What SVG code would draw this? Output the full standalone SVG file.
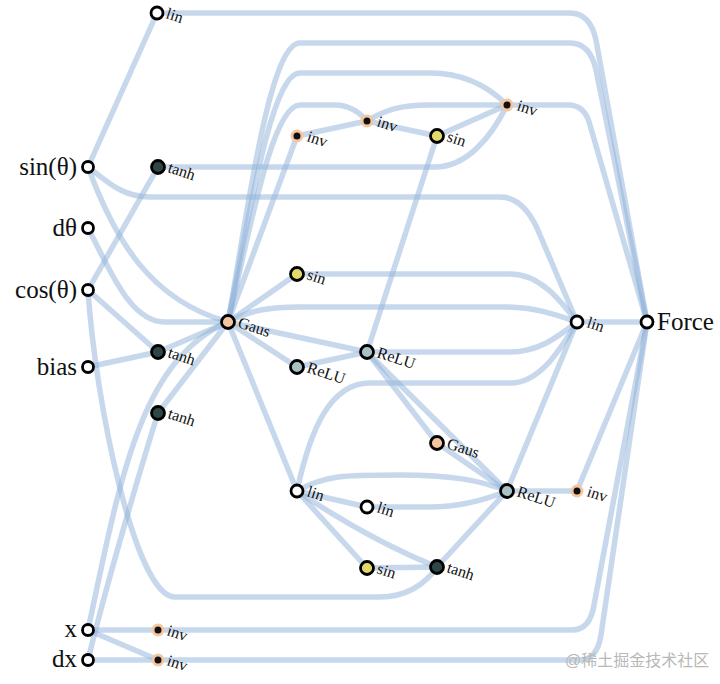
<svg xmlns="http://www.w3.org/2000/svg" width="720" height="684" viewBox="0 0 720 684">
<defs>
<style>
.e{fill:none;stroke:#8fb1d9;stroke-opacity:0.5;stroke-width:5.5;stroke-linecap:round}
.n{stroke:#000;stroke-width:2.8}
.io{fill:#fff}
.lin{fill:#fff}
.gaus{fill:#f4c3a0}
.sin{fill:#e3d96b}
.tanh{fill:#2e4646}
.relu{fill:#a9c1c2}
.inv{fill:#111;stroke:#f5c6a0;stroke-width:3}
.lb{font-family:"Liberation Serif","Times New Roman",serif;font-size:16px;fill:#111}
.big{font-family:"Liberation Serif","Times New Roman",serif;font-size:25px;fill:#111}
.wm{font-family:"Liberation Sans","Noto Sans CJK SC",sans-serif;font-size:16px;fill:#b8b8b8}
</style>
</defs>
<rect width="720" height="684" fill="#fff"/>
<g id="edges">
<path class="e" d="M88,167 L157,13"/>
<path class="e" d="M157,13 H570 Q590,13 596,40 L647,322"/>
<path class="e" d="M88,167 C108,182 122,197 150,197 H500 Q525,197 540,235 L577,322"/>
<path class="e" d="M88,167 C115,240 150,300 228,322"/>
<path class="e" d="M88,228 C110,270 130,322 165,322 H228"/>
<path class="e" d="M88,290 L158,167"/>
<path class="e" d="M88,290 L158,352"/>
<path class="e" d="M88,290 C95,400 135,597 175,597 H380 C405,597 425,585 437,567"/>
<path class="e" d="M88,367 L158,352"/>
<path class="e" d="M88,630 C120,480 140,360 228,322"/>
<path class="e" d="M88,660 C105,590 140,470 158,413"/>
<path class="e" d="M88,630 L158,630"/>
<path class="e" d="M88,630 L158,660"/>
<path class="e" d="M88,660 L158,660"/>
<path class="e" d="M158,630 H572 Q590,630 594,605 L647,322"/>
<path class="e" d="M158,660 H580 Q597,660 601,635 L647,322"/>
<path class="e" d="M158,167 H435 C465,167 490,140 507,105"/>
<path class="e" d="M158,352 L228,322"/>
<path class="e" d="M158,413 L228,322"/>
<path class="e" d="M228,322 L297,136"/>
<path class="e" d="M228,322 C245,230 268,43 300,43 H570 Q590,43 596,70 L647,322"/>
<path class="e" d="M228,322 C247,230 270,73 300,73 H430 C465,73 490,88 507,105"/>
<path class="e" d="M228,322 C250,230 272,105 300,105 H335 C350,105 360,113 367,121"/>
<path class="e" d="M297,136 L367,121"/>
<path class="e" d="M367,121 C385,110 400,105 430,105 H507"/>
<path class="e" d="M367,121 L437,136"/>
<path class="e" d="M437,136 L507,105"/>
<path class="e" d="M507,105 H568 Q585,105 590,125 L647,322"/>
<path class="e" d="M437,136 L367,352"/>
<path class="e" d="M228,322 L297,274"/>
<path class="e" d="M228,322 L297,367"/>
<path class="e" d="M228,322 L367,352"/>
<path class="e" d="M228,322 L297,491"/>
<path class="e" d="M228,322 C250,310 270,307 300,307 H505 C535,307 557,315 577,322"/>
<path class="e" d="M297,274 H510 C540,274 560,300 577,322"/>
<path class="e" d="M367,352 H510 C540,352 560,335 577,322"/>
<path class="e" d="M297,491 C310,430 330,383 370,383 H510 C540,383 560,350 577,322"/>
<path class="e" d="M297,367 L367,352"/>
<path class="e" d="M367,352 L437,443"/>
<path class="e" d="M367,352 L507,491"/>
<path class="e" d="M437,443 L507,491"/>
<path class="e" d="M297,491 L367,507"/>
<path class="e" d="M367,507 H430 C460,507 485,500 507,491"/>
<path class="e" d="M297,491 C325,475 345,475 400,475 C450,475 480,480 507,491"/>
<path class="e" d="M297,491 L367,568"/>
<path class="e" d="M297,491 C340,520 390,548 437,567"/>
<path class="e" d="M367,568 L437,567"/>
<path class="e" d="M437,567 L507,491"/>
<path class="e" d="M507,491 L577,491"/>
<path class="e" d="M507,491 L577,322"/>
<path class="e" d="M577,491 L647,322"/>
<path class="e" d="M577,322 L647,322"/>
</g>
<g id="in-sin"><circle class="n io" cx="88" cy="167" r="5.5"/><text class="big" x="77" y="175" text-anchor="end">sin(θ)</text></g>
<g id="in-dtheta"><circle class="n io" cx="88" cy="228" r="5.5"/><text class="big" x="77" y="236" text-anchor="end">dθ</text></g>
<g id="in-cos"><circle class="n io" cx="88" cy="290" r="5.5"/><text class="big" x="77" y="298" text-anchor="end">cos(θ)</text></g>
<g id="in-bias"><circle class="n io" cx="88" cy="367" r="5.5"/><text class="big" x="77" y="375" text-anchor="end">bias</text></g>
<g id="in-x"><circle class="n io" cx="88" cy="630" r="5.5"/><text class="big" x="77" y="637" text-anchor="end">x</text></g>
<g id="in-dx"><circle class="n io" cx="88" cy="660" r="5.5"/><text class="big" x="77" y="667" text-anchor="end">dx</text></g>
<g id="n-lin1"><circle class="n lin" cx="157" cy="13" r="6"/><text class="lb" x="165" y="18" transform="rotate(18 165 18)">lin</text></g>
<g id="n-tanh1"><circle class="n tanh" cx="158" cy="167" r="6.5"/><text class="lb" x="167" y="172" transform="rotate(18 167 172)">tanh</text></g>
<g id="n-tanh2"><circle class="n tanh" cx="158" cy="352" r="6.5"/><text class="lb" x="167" y="357" transform="rotate(18 167 357)">tanh</text></g>
<g id="n-tanh3"><circle class="n tanh" cx="158" cy="413" r="6.5"/><text class="lb" x="167" y="418" transform="rotate(18 167 418)">tanh</text></g>
<g id="n-inv1"><circle class="inv" cx="158" cy="630" r="5"/><text class="lb" x="166" y="635" transform="rotate(18 166 635)">inv</text></g>
<g id="n-inv2"><circle class="inv" cx="158" cy="660" r="5"/><text class="lb" x="166" y="665" transform="rotate(18 166 665)">inv</text></g>
<g id="n-gaus1"><circle class="n gaus" cx="228" cy="322" r="6.5"/><text class="lb" x="237" y="327" transform="rotate(18 237 327)">Gaus</text></g>
<g id="n-inv3"><circle class="inv" cx="297" cy="136" r="5"/><text class="lb" x="306" y="141" transform="rotate(18 306 141)">inv</text></g>
<g id="n-sin1"><circle class="n sin" cx="297" cy="274" r="6.5"/><text class="lb" x="306" y="279" transform="rotate(18 306 279)">sin</text></g>
<g id="n-relu1"><circle class="n relu" cx="297" cy="367" r="6.5"/><text class="lb" x="306" y="372" transform="rotate(18 306 372)">ReLU</text></g>
<g id="n-lin2"><circle class="n lin" cx="297" cy="491" r="6"/><text class="lb" x="306" y="496" transform="rotate(18 306 496)">lin</text></g>
<g id="n-inv4"><circle class="inv" cx="367" cy="121" r="5"/><text class="lb" x="376" y="126" transform="rotate(18 376 126)">inv</text></g>
<g id="n-relu2"><circle class="n relu" cx="367" cy="352" r="6.5"/><text class="lb" x="376" y="357" transform="rotate(18 376 357)">ReLU</text></g>
<g id="n-lin3"><circle class="n lin" cx="367" cy="507" r="6"/><text class="lb" x="376" y="512" transform="rotate(18 376 512)">lin</text></g>
<g id="n-sin2"><circle class="n sin" cx="367" cy="568" r="6.5"/><text class="lb" x="376" y="573" transform="rotate(18 376 573)">sin</text></g>
<g id="n-sin3"><circle class="n sin" cx="437" cy="136" r="6.5"/><text class="lb" x="446" y="141" transform="rotate(18 446 141)">sin</text></g>
<g id="n-gaus2"><circle class="n gaus" cx="437" cy="443" r="6.5"/><text class="lb" x="446" y="448" transform="rotate(18 446 448)">Gaus</text></g>
<g id="n-tanh4"><circle class="n tanh" cx="437" cy="567" r="6.5"/><text class="lb" x="446" y="572" transform="rotate(18 446 572)">tanh</text></g>
<g id="n-inv5"><circle class="inv" cx="507" cy="105" r="5"/><text class="lb" x="516" y="110" transform="rotate(18 516 110)">inv</text></g>
<g id="n-relu3"><circle class="n relu" cx="507" cy="491" r="6.5"/><text class="lb" x="516" y="496" transform="rotate(18 516 496)">ReLU</text></g>
<g id="n-lin4"><circle class="n lin" cx="577" cy="322" r="6"/><text class="lb" x="586" y="327" transform="rotate(18 586 327)">lin</text></g>
<g id="n-inv6"><circle class="inv" cx="577" cy="491" r="5"/><text class="lb" x="586" y="496" transform="rotate(18 586 496)">inv</text></g>
<g id="out-force"><circle class="n io" cx="647" cy="322" r="6"/><text class="big" x="657" y="330">Force</text></g>
<text class="wm" x="565" y="666">@稀土掘金技术社区</text>
</svg>
